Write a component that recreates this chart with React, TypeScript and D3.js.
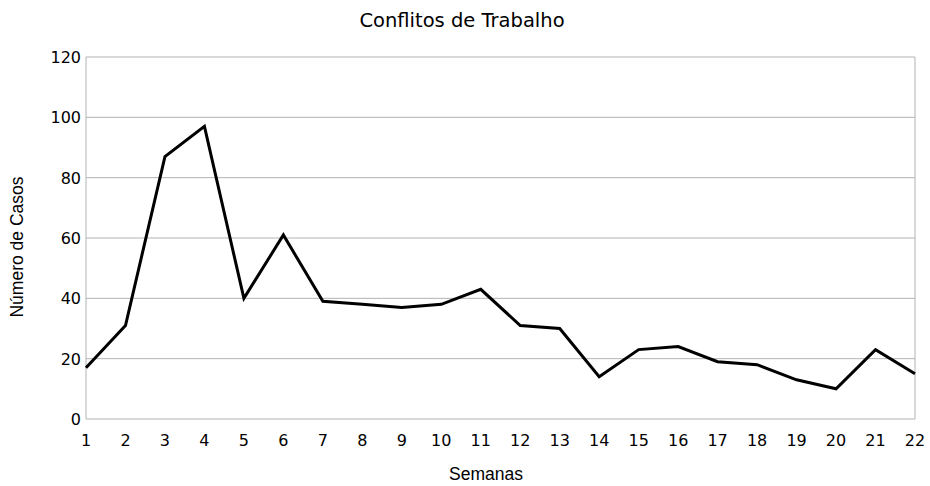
import React from "react";
import * as d3 from "d3";

const weeks = [1,2,3,4,5,6,7,8,9,10,11,12,13,14,15,16,17,18,19,20,21,22];
const cases = [17,31,87,97,40,61,39,38,37,38,43,31,30,14,23,24,19,18,13,10,23,15];
const yTicks = [0,20,40,60,80,100,120];

const W = 930, H = 486;
const left = 86, right = 915, top = 57, bottom = 419;
const font = "'DejaVu Sans', sans-serif";
const font2 = "'Liberation Sans', Arial, sans-serif";

export default function App() {
  const x = d3.scaleLinear().domain([1, 22]).range([left, right]);
  const y = d3.scaleLinear().domain([0, 120]).range([bottom, top]);
  const line = d3.line<number>().x((_, i) => x(weeks[i])).y(d => y(d));
  return (
    <svg width={W} height={H} style={{ position: "absolute", left: 0, top: 0 }}>
      <rect width={W} height={H} fill="#fff" />
      <text x={462} y={27} textAnchor="middle" fontFamily={font} fontSize={19.5} fill="#000">Conflitos de Trabalho</text>
      {yTicks.map(t => (
        <g key={t}>
          <line x1={left} x2={right} y1={y(t)} y2={y(t)} stroke="#b3b3b3" strokeWidth={1} />
          <text x={left - 5} y={y(t) + 6} textAnchor="end" fontFamily={font} fontSize={16} fill="#000">{t}</text>
        </g>
      ))}
      <line x1={left} x2={left} y1={top} y2={bottom} stroke="#b3b3b3" />
      <line x1={right} x2={right} y1={top} y2={bottom} stroke="#b3b3b3" />
      {weeks.map(w => (
        <text key={w} x={x(w)} y={446} textAnchor="middle" fontFamily={font} fontSize={16} fill="#000">{w}</text>
      ))}
      <path d={line(cases) || ""} fill="none" stroke="#000" strokeWidth={3} strokeLinejoin="miter" />
      <text x={486} y={480} textAnchor="middle" fontFamily={font2} fontSize={17.5} fill="#000">Semanas</text>
      <text transform={`translate(23,247) rotate(-90)`} textAnchor="middle" fontFamily={font2} fontSize={17.5} fill="#000">Número de Casos</text>
    </svg>
  );
}
